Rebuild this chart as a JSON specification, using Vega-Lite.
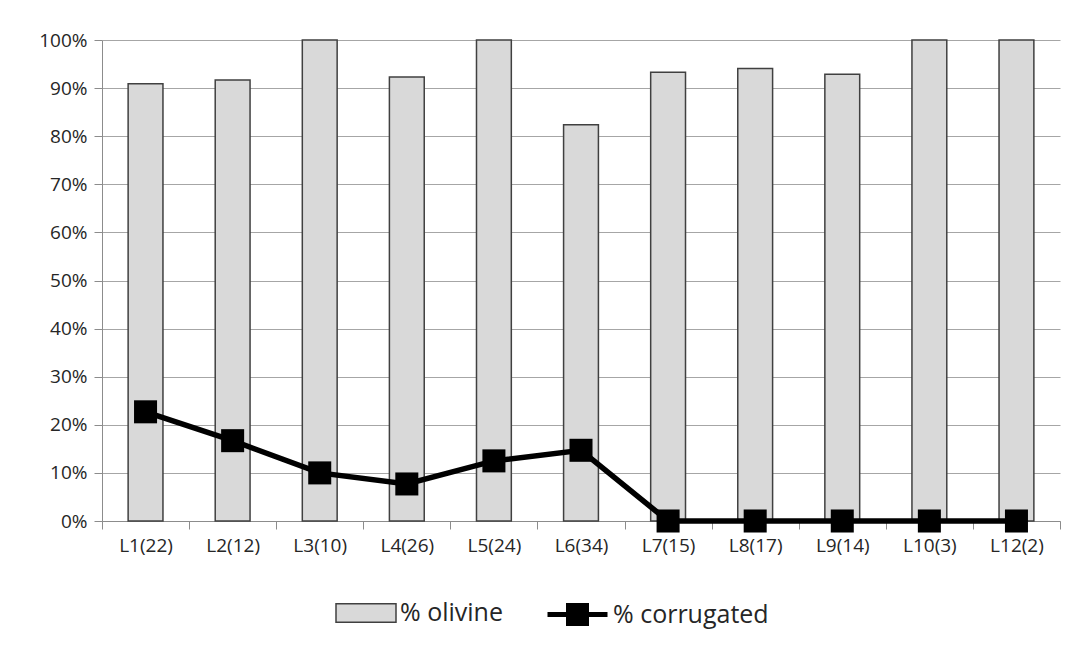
{
  "$schema": "https://vega.github.io/schema/vega-lite/v6.json",
  "width": 958,
  "height": 481,
  "autosize": {"type": "none"},
  "padding": {"left": 102, "top": 40, "right": 26, "bottom": 135},
  "background": "white",
  "config": {
    "font": "Open Sans",
    "view": {"stroke": null},
    "axis": {"labelColor": "#262626", "domainColor": "#8c8c8c", "tickColor": "#8c8c8c", "gridColor": "#a6a6a6", "ticks": true, "tickWidth": 1}
  },
  "data": {
    "values": [
      {"label": "L1(22)", "olivine": 0.909, "corrugated": 0.227},
      {"label": "L2(12)", "olivine": 0.917, "corrugated": 0.167},
      {"label": "L3(10)", "olivine": 1.0, "corrugated": 0.1},
      {"label": "L4(26)", "olivine": 0.923, "corrugated": 0.077},
      {"label": "L5(24)", "olivine": 1.0, "corrugated": 0.125},
      {"label": "L6(34)", "olivine": 0.824, "corrugated": 0.147},
      {"label": "L7(15)", "olivine": 0.933, "corrugated": 0.0},
      {"label": "L8(17)", "olivine": 0.941, "corrugated": 0.0},
      {"label": "L9(14)", "olivine": 0.929, "corrugated": 0.0},
      {"label": "L10(3)", "olivine": 1.0, "corrugated": 0.0},
      {"label": "L12(2)", "olivine": 1.0, "corrugated": 0.0}
    ]
  },
  "encoding": {
    "x": {
      "field": "label", "type": "nominal", "sort": null, "title": null,
      "scale": {"paddingInner": 0, "paddingOuter": 0},
      "axis": {"labelAngle": 0, "ticks": true, "tickBand": "extent", "tickSize": 8, "tickColor": "#8c8c8c", "tickWidth": 1, "labelPadding": 7, "grid": false, "labelFontSize": 19}
    }
  },
  "layer": [
    {
      "mark": {"type": "bar", "stroke": "#404040", "strokeWidth": 1.5, "width": {"band": 0.4}},
      "encoding": {
        "y": {
          "field": "olivine", "type": "quantitative", "title": null,
          "scale": {"domain": [0, 1], "nice": false},
          "axis": {"values": [0, 0.1, 0.2, 0.3, 0.4, 0.5, 0.6, 0.7, 0.8, 0.9, 1.0], "format": ".0%", "tickSize": 8, "labelPadding": 7, "grid": true, "labelFontSize": 19}
        },
        "fill": {
          "datum": "% olivine", "type": "nominal",
          "scale": {"range": ["#d9d9d9"]},
          "legend": {
            "title": null, "orient": "none", "legendX": 233, "legendY": 542,
            "symbolType": "M-1,-0.31H1V0.31H-1Z", "symbolSize": 3600,
            "symbolStrokeColor": "#404040", "symbolStrokeWidth": 1.5,
            "labelFontSize": 25, "labelColor": "#262626", "labelOffset": 3
          }
        }
      }
    },
    {
      "mark": {"type": "line", "strokeWidth": 5.5},
      "encoding": {
        "y": {"field": "corrugated", "type": "quantitative"},
        "stroke": {
          "datum": "% corrugated", "type": "nominal",
          "scale": {"range": ["black"]},
          "legend": {
            "title": null, "orient": "none", "legendX": 443, "legendY": 542,
            "symbolType": "M-1,0H1M-0.3,-0.3H0.3V0.3H-0.3Z", "symbolSize": 3600,
            "symbolFillColor": "black", "symbolStrokeWidth": 5,
            "labelFontSize": 25, "labelColor": "#262626", "labelOffset": 3
          }
        }
      }
    },
    {
      "mark": {"type": "point", "shape": "square", "filled": true, "color": "black", "size": 530, "opacity": 1},
      "encoding": {
        "y": {"field": "corrugated", "type": "quantitative"}
      }
    }
  ]
}
